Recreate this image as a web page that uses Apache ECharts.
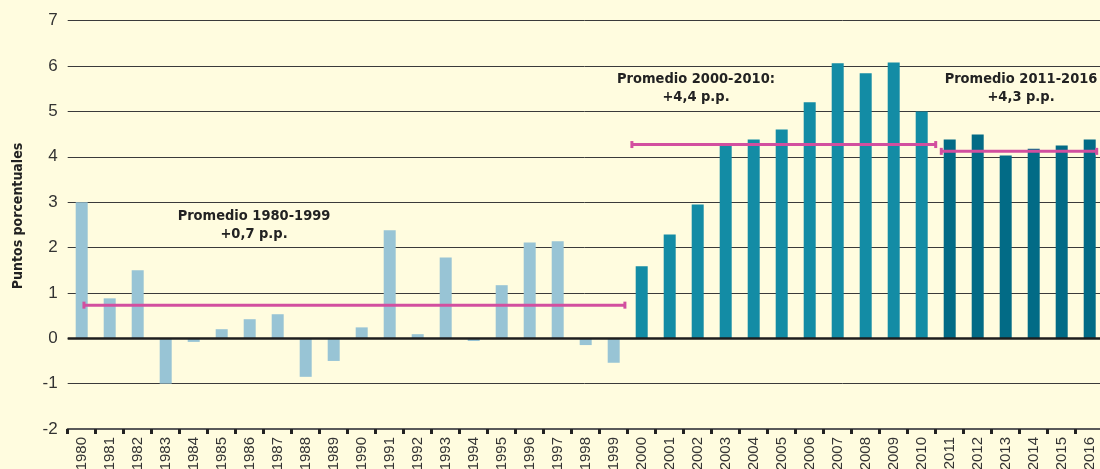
<!DOCTYPE html>
<html lang="es">
<head>
    <meta charset="UTF-8">
    <title>Puntos porcentuales</title>
    <script src="https://cdn.jsdelivr.net/npm/echarts@6/dist/echarts.min.js"></script>
    <style>
        html, body {margin: 0; padding: 0; background: #fffcdf;}
        #chart_box {width: 1100px; height: 469px;}
    </style>
</head>
<body>
<div id="chart_box"></div>
<script>
    // datos
    var years = ['1980', '1981', '1982', '1983', '1984', '1985', '1986', '1987', '1988', '1989',
        '1990', '1991', '1992', '1993', '1994', '1995', '1996', '1997', '1998', '1999',
        '2000', '2001', '2002', '2003', '2004', '2005', '2006', '2007', '2008', '2009',
        '2010', '2011', '2012', '2013', '2014', '2015', '2016'];
    var values = [3.0, 0.88, 1.5, -1.0, -0.08, 0.2, 0.42, 0.53, -0.85, -0.5,
        0.24, 2.38, 0.09, 1.78, -0.06, 1.17, 2.11, 2.14, -0.15, -0.54,
        1.59, 2.29, 2.95, 4.25, 4.38, 4.6, 5.2, 6.06, 5.84, 6.08,
        5.0, 4.38, 4.49, 4.03, 4.18, 4.25, 4.38];
    // promedios: [inicio, fin] en posiciones de categoria, y valor
    var avg1 = [[0.08, 0.73], [19.4, 0.73]];
    var avg2 = [[19.65, 4.27], [30.5, 4.27]];
    var avg3 = [[30.7, 4.12], [36.25, 4.12]];
    var notes = [
        ['Promedio 1980-1999', '+0,7 p.p.'],
        ['Promedio 2000-2010:', '+4,4 p.p.'],
        ['Promedio 2011-2016', '+4,3 p.p.']
    ];

    var chart = echarts.init(document.getElementById('chart_box'));

    var narrow = '"Liberation Sans Narrow", "DejaVu Sans Condensed", "Liberation Sans", sans-serif';

    function avgLine(data) {
        return {
            type: 'line',
            xAxisIndex: 1,
            data: data,
            symbol: 'rect',
            symbolSize: [3, 7],
            showSymbol: true,
            silent: true,
            lineStyle: {color: '#d24f9f', width: 3},
            itemStyle: {color: '#d24f9f'},
            z: 5
        };
    }

    function note(lines, x, y) {
        return {
            type: 'text',
            x: x,
            y: y,
            style: {
                text: lines.join('\n'),
                align: 'center',
                verticalAlign: 'top',
                font: 'bold 14.5px ' + narrow,
                lineHeight: 18,
                fill: '#222'
            }
        };
    }

    var option = {
        backgroundColor: '#fffcdf',
        animation: false,
        grid: {  //area de dibujo
            left: 67.7,
            top: 20.7,
            width: 1036,
            height: 408.3,
            outerBoundsMode: 'none'
        },
        xAxis: [
            {
                type: 'category',
                data: years,
                boundaryGap: true,
                position: 'bottom',
                axisLine: {onZero: false, lineStyle: {color: '#5a5a5a', width: 2}},
                axisTick: {show: true, interval: 0, length: 5, lineStyle: {color: '#222', width: 3}},
                axisLabel: {
                    interval: 0,
                    rotate: 90,
                    margin: 8,
                    fontSize: 15,
                    color: '#333',
                    fontFamily: '"Liberation Sans", Arial, sans-serif'
                },
                splitLine: {show: false}
            },
            {
                type: 'value',
                min: -0.5,
                max: 36.5,
                show: false
            }
        ],
        yAxis: {
            type: 'value',
            min: -2,
            max: 7,
            interval: 1,
            axisLine: {show: false},
            axisTick: {show: false},
            axisLabel: {
                fontSize: 17,
                color: '#333',
                margin: 10,
                fontFamily: '"Liberation Sans", Arial, sans-serif'
            },
            splitLine: {lineStyle: {color: '#3a3a3a', width: 1}}
        },
        series: [
            {
                type: 'bar',
                data: values,
                barWidth: 12,
                itemStyle: {
                    color: function (p) {
                        if (p.dataIndex < 20) return '#98c4d5';
                        if (p.dataIndex < 31) return '#138ca5';
                        return '#026b86';
                    }
                },
                markLine: {
                    silent: true,
                    symbol: 'none',
                    label: {show: false},
                    lineStyle: {color: '#1e1e1e', width: 2.5, type: 'solid'},
                    data: [{yAxis: 0}]
                }
            },
            avgLine(avg1),
            avgLine(avg2),
            avgLine(avg3)
        ],
        graphic: [
            note(notes[0], 254, 207),
            note(notes[1], 696, 70),
            note(notes[2], 1021, 70),
            {
                // titulo del eje
                type: 'text',
                x: 18,
                y: 216,
                rotation: Math.PI / 2,
                style: {
                    text: 'Puntos porcentuales',
                    align: 'center',
                    verticalAlign: 'middle',
                    font: 'bold 14px ' + narrow,
                    fill: '#222'
                }
            }
        ]
    };
    chart.setOption(option);
</script>
</body>
</html>
